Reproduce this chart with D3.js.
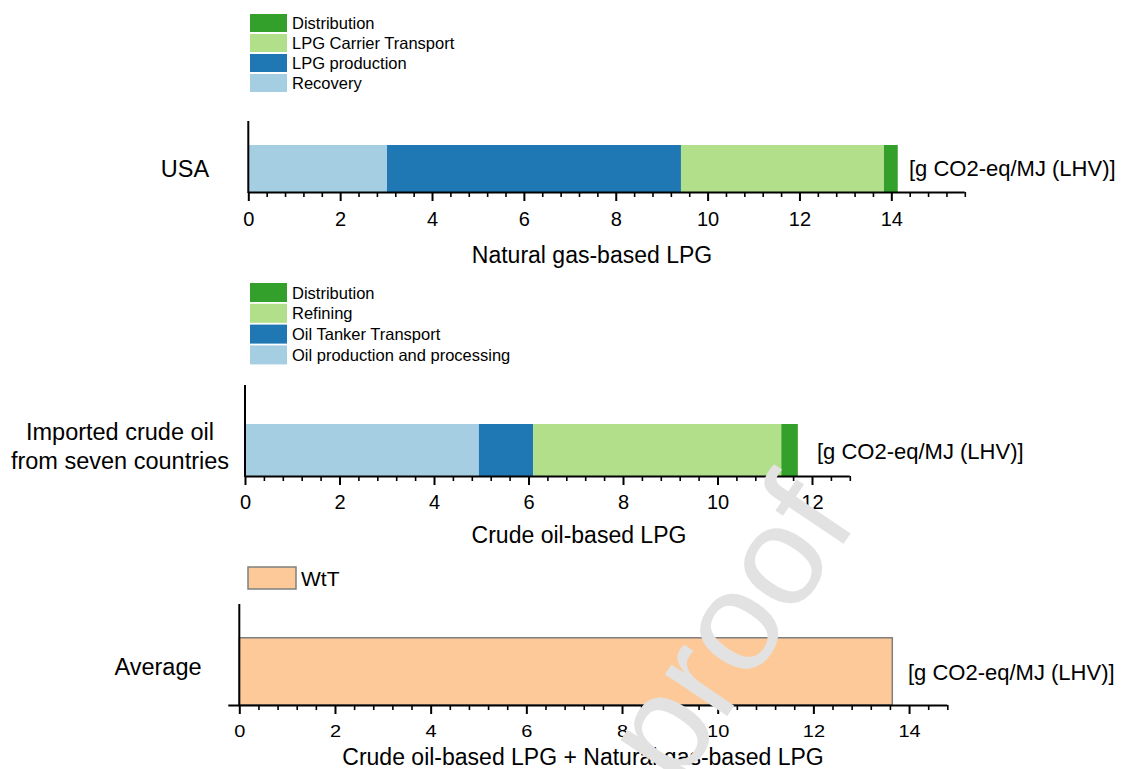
<!DOCTYPE html>
<html>
<head>
<meta charset="utf-8">
<script src="https://cdn.jsdelivr.net/npm/d3@7/dist/d3.min.js"></script>
<style>
  html, body { margin: 0; padding: 0; background: #fff; }
  svg { display: block; font-family: "Liberation Sans", Arial, sans-serif; }
</style>
</head>
<body>
<svg id="chart" width="1129" height="769"></svg>
<script>
// ---------------- DATA ----------------
const usaCategories = ["USA"];
const usaSeries = ["Recovery", "LPG production", "LPG Carrier Transport", "Distribution"];
const usaValues = [3.02, 6.40, 4.42, 0.30];
const usaTicks = [0, 2, 4, 6, 8, 10, 12, 14];
const usaMax = 15.6;

const crudeCategories = ["Imported crude oil|from seven countries"];
const crudeSeries = ["Oil production and processing", "Oil Tanker Transport", "Refining", "Distribution"];
const crudeValues = [4.95, 1.15, 5.25, 0.35];
const crudeTicks = [0, 2, 4, 6, 8, 10, 12];
const crudeMax = 12.8;

const avgCategories = ["Average"];
const avgSeries = ["WtT"];
const avgValues = [13.65];
const avgTicks = [0, 2, 4, 6, 8, 10, 12, 14];
const avgMax = 14.8;

const stackColors = ["#a6cee3", "#1f78b4", "#b2df8a", "#33a02c"];
const avgColors = ["#fdc999"];

const unitLabel = "[g CO2-eq/MJ (LHV)]";
const axisTitles = ["Natural gas-based LPG", "Crude oil-based LPG", "Crude oil-based LPG + Natural gas-based LPG"];
const minorStep = 0.4;

// ---------------- LAYOUT ----------------
const svg = d3.select("#chart");

const panels = [
  {
    cats: usaCategories, series: usaSeries, values: usaValues, ticks: usaTicks, max: usaMax,
    colors: stackColors, x0: 248.3, perUnit: 45.93, axisTop: 121, barTop: 145, base: 192,
    catX: 185, catDy: 0, unitX: 909, unitY: 168, title: axisTitles[0], titleX: 592, titleY: 255,
    legendY: 14, legendPitch: 20, legendH: 18, legendX: 250, legendW: 37, legendFont: 16.5,
    tickPad: 11, squash: 1, baseOverhang: 0, stroke: null
  },
  {
    cats: crudeCategories, series: crudeSeries, values: crudeValues, ticks: crudeTicks, max: crudeMax,
    colors: stackColors, x0: 245, perUnit: 47.25, axisTop: 385, barTop: 424, base: 476,
    catX: 120, catDy: -4, unitX: 817, unitY: 451, title: axisTitles[1], titleX: 579, titleY: 535,
    legendY: 283, legendPitch: 20.8, legendH: 19, legendX: 250, legendW: 37, legendFont: 16.5,
    tickPad: 10, squash: 1, baseOverhang: 0, stroke: null
  },
  {
    cats: avgCategories, series: avgSeries, values: avgValues, ticks: avgTicks, max: avgMax,
    colors: avgColors, x0: 239.3, perUnit: 47.84, axisTop: 604, barTop: 637, base: 705,
    catX: 158, catDy: -4, unitX: 908, unitY: 672, title: axisTitles[2], titleX: 583, titleY: 757,
    legendY: 567, legendPitch: 22, legendH: 22, legendX: 248, legendW: 48, legendFont: 21,
    tickPad: 11, squash: 0.82, baseOverhang: 11, stroke: "#7f7f7f"
  }
];

panels.forEach(p => {
  const g = svg.append("g");
  const x = d3.scaleLinear().domain([0, p.max]).range([p.x0, p.x0 + p.max * p.perUnit]);
  const y = d3.scaleBand().domain(p.cats).range([p.barTop, p.base]).padding(0);

  // stacked data
  const row = {};
  p.series.forEach((s, i) => row[s] = p.values[i]);
  row.cat = p.cats[0];
  const stacked = d3.stack().keys(p.series)([row]);
  const color = d3.scaleOrdinal().domain(p.series).range(p.colors);

  // bars
  g.selectAll("g.layer").data(stacked).join("g")
    .attr("class", "layer")
    .attr("fill", d => color(d.key))
    .selectAll("rect").data(d => d).join("rect")
    .attr("x", d => x(d[0]))
    .attr("y", d => y(d.data.cat) + (p.stroke ? 0.75 : 0))
    .attr("width", d => x(d[1]) - x(d[0]))
    .attr("height", y.bandwidth() - (p.stroke ? 0.75 : 0))
    .attr("stroke", p.stroke || "none")
    .attr("stroke-width", p.stroke ? 1.5 : 0);

  // minor ticks
  const minor = d3.range(0, p.max + 1e-9, minorStep).filter(v => !p.ticks.some(t => Math.abs(t - v) < 1e-6));
  const minorAxis = g.append("g").attr("transform", `translate(0,${p.base})`)
    .call(d3.axisBottom(x).tickValues(minor).tickSize(5).tickSizeOuter(0).tickFormat(""));
  minorAxis.select(".domain").remove();
  minorAxis.selectAll("line").attr("stroke", "#000").attr("stroke-width", 1.6);

  // major axis
  const ax = g.append("g").attr("transform", `translate(0,${p.base})`)
    .call(d3.axisBottom(x).tickValues(p.ticks).tickSize(9).tickSizeOuter(0).tickPadding(p.tickPad).tickFormat(d3.format("d")));
  ax.select(".domain").attr("stroke", "#000").attr("stroke-width", 2)
    .attr("d", `M${x(0) - p.baseOverhang},0.5H${x.range()[1]}`);
  ax.selectAll(".tick line").attr("stroke", "#000").attr("stroke-width", 2);
  ax.selectAll(".tick text")
    .attr("fill", "#000")
    .style("font-size", "20px")
    .style("font-family", "'Liberation Sans', Arial, sans-serif")
    .each(function () {
      const t = d3.select(this);
      const yy = +t.attr("y");
      t.attr("y", 0).attr("transform", `translate(0,${yy}) scale(1,${p.squash})`);
    });

  // y axis line
  g.append("line")
    .attr("x1", p.x0).attr("x2", p.x0)
    .attr("y1", p.axisTop).attr("y2", p.base + 1)
    .attr("stroke", "#000").attr("stroke-width", 2);

  // category label
  const bandMid = y(p.cats[0]) + y.bandwidth() / 2 + p.catDy;
  const lines = p.cats[0].split("|");
  const lh = 29;
  const catText = g.append("text")
    .attr("x", p.catX)
    .attr("text-anchor", "middle")
    .style("font-size", "23.5px")
    .attr("fill", "#000");
  lines.forEach((l, i) => {
    catText.append("tspan")
      .attr("x", p.catX)
      .attr("y", bandMid + (i - (lines.length - 1) / 2) * lh)
      .attr("dominant-baseline", "central")
      .text(l);
  });

  // unit label
  g.append("text")
    .attr("x", p.unitX).attr("y", p.unitY)
    .attr("dominant-baseline", "central")
    .style("font-size", "22px")
    .attr("fill", "#000")
    .text(unitLabel);

  // axis title
  g.append("text")
    .attr("x", p.titleX).attr("y", p.titleY)
    .attr("text-anchor", "middle")
    .attr("dominant-baseline", "central")
    .style("font-size", "23px")
    .attr("fill", "#000")
    .text(p.title);

  // legend (reverse order: last series at top)
  const legendItems = p.series.slice().reverse();
  const lg = g.append("g");
  legendItems.forEach((s, i) => {
    const yy = p.legendY + i * p.legendPitch;
    lg.append("rect")
      .attr("x", p.legendX).attr("y", yy)
      .attr("width", p.legendW).attr("height", p.legendH)
      .attr("fill", color(s))
      .attr("stroke", p.stroke || "none")
      .attr("stroke-width", p.stroke ? 1.5 : 0);
    lg.append("text")
      .attr("x", p.legendX + p.legendW + 5)
      .attr("y", yy + p.legendH / 2)
      .attr("dominant-baseline", "central")
      .style("font-size", p.legendFont + "px")
      .attr("fill", "#000")
      .text(s);
  });
});

// watermark
svg.append("text")
  .attr("transform", "translate(727,628) rotate(-56)")
  .attr("text-anchor", "middle")
  .attr("dominant-baseline", "central")
  .style("font-size", "142px")
  .attr("fill", "#e2e2e2")
  .text("proof");
</script>
</body>
</html>
